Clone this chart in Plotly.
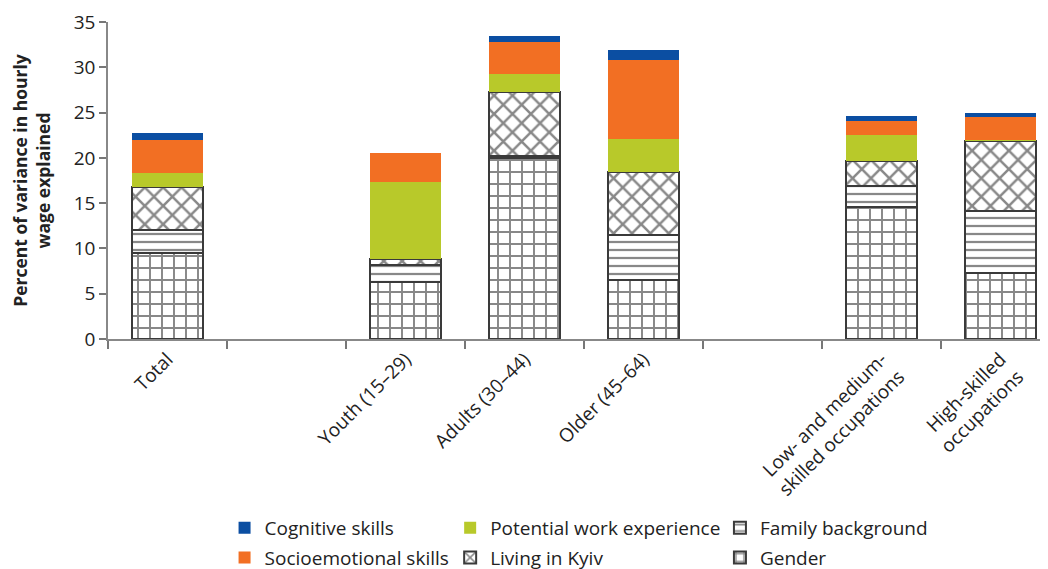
import plotly.graph_objects as go

categories = ["Total", " ", "Youth (15–29)", "Adults (30–44)", "Older (45–64)", "  ",
              "Low- and medium-<br>skilled occupations", "High-skilled<br>occupations"]

gender = [9.5, None, 6.3, 20.0, 6.5, None, 14.6, 7.3]
family = [2.5, None, 1.9, 0.2, 5.0, None, 2.3, 6.8]
kyiv = [4.8, None, 0.6, 7.1, 6.9, None, 2.7, 7.8]
work = [1.5, None, 8.5, 2.0, 3.7, None, 2.9, 0.1]
socio = [3.7, None, 3.2, 3.5, 8.7, None, 1.6, 2.5]
cognitive = [0.8, None, 0.0, 0.6, 1.1, None, 0.5, 0.45]

FONT = "Open Sans"
fig = go.Figure()

def patterned(name, vals, shape, size, sol, legend, rank):
    fig.add_trace(go.Bar(
        x=categories, y=vals, name=name, width=0.6,
        marker=dict(color="white", line=dict(color="#3a3a3a", width=2),
                    pattern=dict(shape=shape, size=size, solidity=sol,
                                 fgcolor="#111111", bgcolor="white", fillmode="overlay")),
        legend=legend, legendgroup=name, legendrank=rank))

def solid(name, vals, color, legend, rank):
    fig.add_trace(go.Bar(
        x=categories, y=vals, name=name, width=0.6,
        marker=dict(color=color, line=dict(width=0)),
        legend=legend, legendgroup=name, legendrank=rank))

patterned("Gender", gender, "+", 12, 0.3, "legend3", 2)
patterned("Family background", family, "-", 8, 0.28, "legend3", 1)
patterned("Living in Kyiv", kyiv, "x", 13, 0.35, "legend2", 2)
solid("Potential work experience", work, "#B8C92A", "legend2", 1)
solid("Socioemotional skills", socio, "#F26F23", "legend", 2)
solid("Cognitive skills", cognitive, "#0B4EA2", "legend", 1)

leg_common = dict(orientation="v", yanchor="top", traceorder="grouped",
                  tracegroupgap=2, font=dict(family=FONT, size=19, color="#222"),
                  bgcolor="rgba(0,0,0,0)", itemclick=False)

fig.update_layout(
    barmode="stack",
    width=1040, height=569,
    margin=dict(l=100, r=0, t=14, b=238),
    plot_bgcolor="white", paper_bgcolor="white",
    font=dict(family=FONT, size=19, color="#222"),
    xaxis=dict(type="category", range=[-0.5, 7.4], tickson="boundaries",
               ticks="outside", ticklen=8, tickcolor="#777", tickwidth=1.5,
               showline=True, linecolor="#888", linewidth=1.5, automargin=False,
               tickangle=-45, tickfont=dict(family=FONT, size=19, color="#222"),
               showgrid=False, ticklabeloverflow="allow"),
    yaxis=dict(range=[0, 35], dtick=5, ticks="outside", ticklen=7, tickcolor="#777",
               tickwidth=1.5, showline=True, linecolor="#888", linewidth=1.5,
               showgrid=False, zeroline=False, automargin=False,
               ticklabeloverflow="allow",
               tickfont=dict(family=FONT, size=19, color="#222"),
               title=dict(text="<b>Percent of variance in hourly<br>wage explained</b>",
                          font=dict(family=FONT, size=17.5, color="#222"), standoff=21)),
    legend=dict(x=0.124, y=-0.537, **leg_common),
    legend2=dict(x=0.364, y=-0.537, **leg_common),
    legend3=dict(x=0.651, y=-0.537, **leg_common),
)

fig.write_html("out.html")
